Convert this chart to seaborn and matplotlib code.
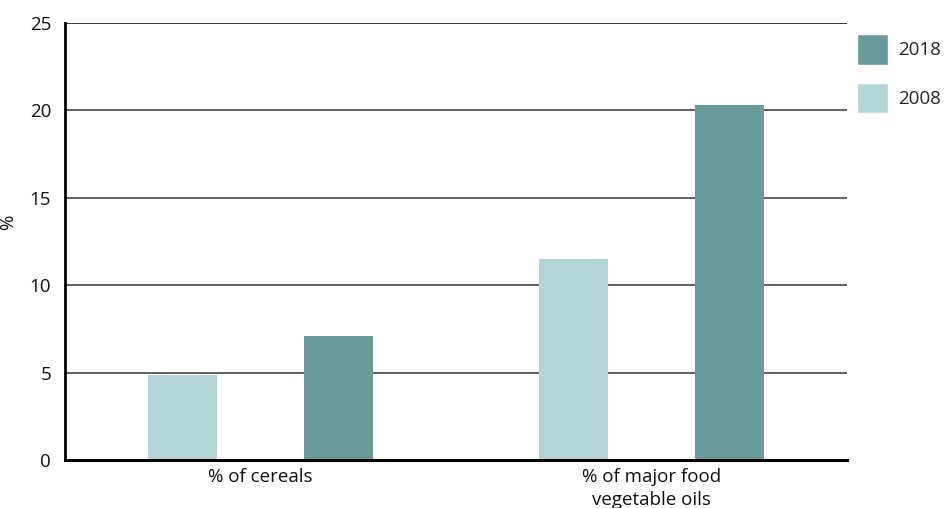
import matplotlib
matplotlib.use("Agg")
import matplotlib.pyplot as plt
import seaborn as sns
import pandas as pd
from matplotlib.patches import Patch

categories = ["% of cereals", "% of major food\nvegetable oils"]
years = ["2008", "2018"]
values_2008 = [4.86, 11.5]
values_2018 = [7.09, 20.3]
yticks = [0, 5, 10, 15, 20, 25]

colors = {"2008": "#b3d5d7", "2018": "#699b9b"}

df = pd.DataFrame({
    "category": categories * 2,
    "year": ["2008"] * len(categories) + ["2018"] * len(categories),
    "value": values_2008 + values_2018,
})

sns.set_theme(style="white")
plt.rcParams["font.family"] = ["Open Sans", "DejaVu Sans"]
FS = 13.5

fig = plt.figure(figsize=(9.45, 5.08), dpi=100)
ax = fig.add_axes([65 / 945, 1 - 460 / 508, (847 - 65) / 945, (460 - 23) / 508])

sns.barplot(data=df, x="category", y="value", hue="year", hue_order=years,
            order=categories, palette=colors, width=0.8, gap=0.56,
            saturation=1, legend=False, ax=ax, zorder=3, linewidth=0,
            edgecolor="none")

ax.set_xlim(-0.5, 1.5)
ax.set_ylim(0, 25)
ax.set_yticks(yticks)
ax.set_yticklabels([str(t) for t in yticks], fontsize=FS, color="#111111")
ax.tick_params(axis="y", length=0, pad=10)
ax.tick_params(axis="x", length=0, labelsize=FS, labelcolor="#111111", pad=6)
for lbl in ax.get_xticklabels():
    lbl.set_linespacing(1.3)
for t in yticks[1:]:
    ax.axhline(t, color="#333333" if t < 25 else "#000000", lw=1.1, zorder=1)

for s in ["top", "right"]:
    ax.spines[s].set_visible(False)
ax.spines["left"].set_linewidth(2)
ax.spines["left"].set_color("#000000")
ax.spines["bottom"].set_linewidth(2.2)
ax.spines["bottom"].set_color("#000000")
ax.spines["bottom"].set_zorder(5)
ax.set_xlabel("")
ax.set_ylabel("%", fontsize=FS, color="#111111")
ax.yaxis.set_label_coords((17 - 65) / (847 - 65), (460 - 222) / (460 - 23))

handles = [Patch(facecolor=colors["2018"], label="2018"),
           Patch(facecolor=colors["2008"], label="2008")]
fig.legend(handles=handles, loc="upper left",
           bbox_to_anchor=(857 / 945, 1 - 34 / 508), frameon=False,
           fontsize=FS, handlelength=1.65, handleheight=2.15,
           handletextpad=0.55, labelspacing=0.95, borderpad=0, borderaxespad=0)

fig.savefig("out.png", dpi=100)
